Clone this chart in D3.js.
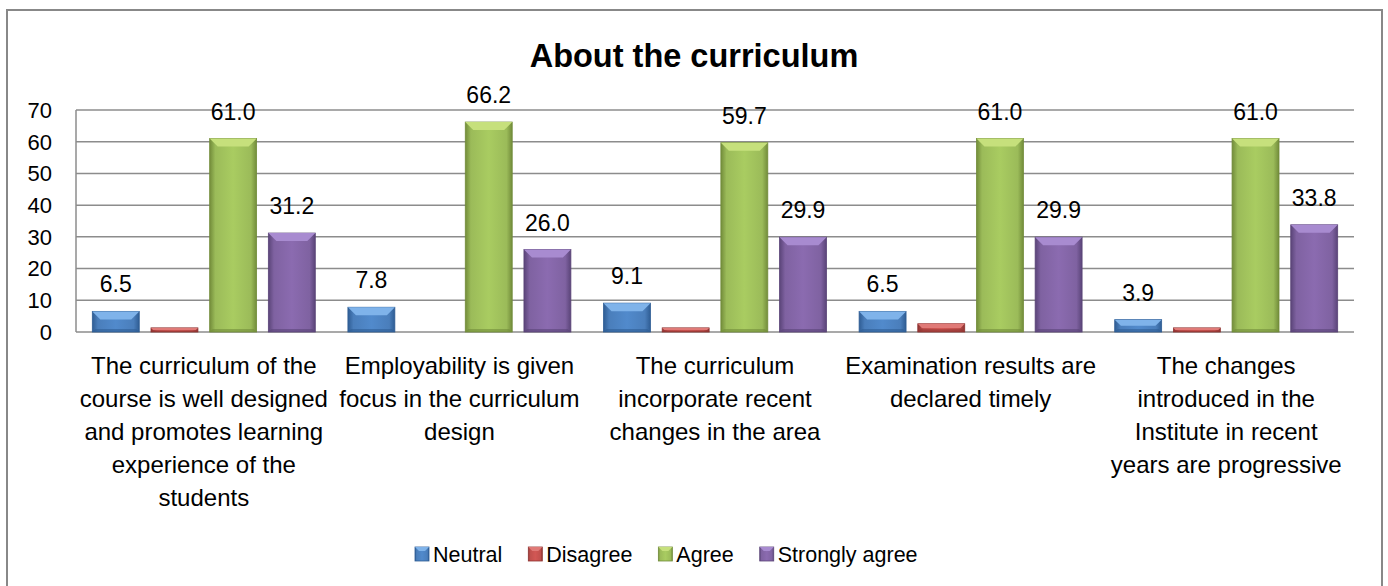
<!DOCTYPE html>
<head>
    <meta charset="utf-8">
    <style>
        body { margin: 0; background: #fff; }
        text { font-family: "Liberation Sans", Arial, sans-serif; fill: #000; }
        .grid line { stroke: #8c8c8c; stroke-width: 1.5; }
    </style>
</head>
<svg width="1388" height="586" class="bar-chart"></svg>
<script src="https://cdn.jsdelivr.net/npm/d3@7/dist/d3.min.js"></script>
<script>
    // chart data
    const title = "About the curriculum";
    const categories = [
        "The curriculum of the\ncourse is well designed\nand promotes learning\nexperience of the\nstudents",
        "Employability is given\nfocus in the curriculum\ndesign",
        "The curriculum\nincorporate recent\nchanges in the area",
        "Examination results are\ndeclared timely",
        "The changes\nintroduced in the\nInstitute in recent\nyears are progressive"
    ];
    const seriesNames = ["Neutral", "Disagree", "Agree", "Strongly agree"];
    const neutral = [6.5, 7.8, 9.1, 6.5, 3.9];
    const disagree = [1.3, 0, 1.3, 2.6, 1.3];
    const agree = [61.0, 66.2, 59.7, 61.0, 61.0];
    const stronglyAgree = [31.2, 26.0, 29.9, 29.9, 33.8];
    const labelledSeries = ["Neutral", "Agree", "Strongly agree"];
    const yTicks = [0, 10, 20, 30, 40, 50, 60, 70];

    const values = [neutral, disagree, agree, stronglyAgree];
    const colors = {
        "Neutral":        {face: "#4a7ebb", light: "#7fb3ea", dark: "#2f5d94"},
        "Disagree":       {face: "#c0504d", light: "#e07a77", dark: "#8e3331"},
        "Agree":          {face: "#9bbb59", light: "#c6e07c", dark: "#728c3a"},
        "Strongly agree": {face: "#7f62a1", light: "#a88bd0", dark: "#5a4478"}
    };

    var svg = d3.select(".bar-chart"),
        margin = {top: 110, left: 76, right: 34, bottom: 254},
        width = +svg.attr("width") - margin.left - margin.right,
        height = +svg.attr("height") - margin.top - margin.bottom;

    // outer chart border
    svg.append("rect")
        .attr("x", 7).attr("y", 10)
        .attr("width", 1375).attr("height", 600)
        .attr("fill", "#fff")
        .attr("stroke", "#888").attr("stroke-width", 2);

    var defs = svg.append("defs");
    seriesNames.forEach(function(s, i) {
        var c = colors[s];
        var gr = defs.append("linearGradient").attr("id", "grad" + i)
            .attr("x1", "0").attr("x2", "1").attr("y1", "0").attr("y2", "0");
        gr.append("stop").attr("offset", "0").attr("stop-color", c.dark);
        gr.append("stop").attr("offset", "0.12").attr("stop-color", c.face);
        gr.append("stop").attr("offset", "0.5").attr("stop-color", d3.color(c.face).brighter(0.25));
        gr.append("stop").attr("offset", "0.88").attr("stop-color", c.face);
        gr.append("stop").attr("offset", "1").attr("stop-color", c.dark);
    });

    var x0 = d3.scaleBand().domain(d3.range(categories.length)).range([0, width]);
    var x1 = d3.scaleBand().domain(seriesNames).range([0, x0.bandwidth()])
        .paddingInner(0.2).paddingOuter(0.278);
    var y = d3.scaleLinear().domain([0, 70]).range([height, 0]);

    var g = svg.append("g")
        .attr("transform", "translate(" + margin.left + "," + margin.top + ")");

    // gridlines
    g.append("g").attr("class", "grid")
        .selectAll("line").data(yTicks).enter().append("line")
        .attr("x1", 0).attr("x2", width)
        .attr("y1", function(d) { return y(d); })
        .attr("y2", function(d) { return y(d); });
    g.append("line")
        .attr("x1", 0).attr("x2", 0).attr("y1", 0).attr("y2", height)
        .attr("stroke", "#8c8c8c").attr("stroke-width", 1.5);

    // y axis labels
    g.append("g").selectAll("text").data(yTicks).enter().append("text")
        .attr("x", -24).attr("y", function(d) { return y(d); })
        .attr("dy", "0.36em")
        .attr("text-anchor", "end")
        .style("font-size", "22px")
        .text(function(d) { return d; });

    // bars with bevel
    var bars = [];
    values.forEach(function(arr, si) {
        arr.forEach(function(v, ci) {
            bars.push({s: seriesNames[si], si: si, ci: ci, v: v});
        });
    });

    var bar = g.selectAll(".bar").data(bars.filter(function(d) { return d.v > 0; }))
        .enter().append("g").attr("class", "bar")
        .attr("transform", function(d) {
            return "translate(" + (x0(d.ci) + x1(d.s)) + "," + y(d.v) + ")";
        });

    var bw = x1.bandwidth();
    bar.append("rect")
        .attr("width", bw)
        .attr("height", function(d) { return height - y(d.v); })
        .attr("fill", function(d) { return "url(#grad" + d.si + ")"; })
        .attr("stroke", function(d) { return colors[d.s].dark; })
        .attr("stroke-width", 0.8);
    bar.append("path")
        .attr("fill", function(d) { return colors[d.s].light; })
        .attr("d", function(d) {
            var h = height - y(d.v), b = Math.min(8, h / 2);
            return "M0,0H" + bw + "L" + (bw - b) + "," + b + "H" + b + "Z";
        });
    bar.append("path")
        .attr("fill", function(d) { return colors[d.s].dark; })
        .attr("opacity", 0.6)
        .attr("d", function(d) {
            var h = height - y(d.v), b = Math.min(3, h / 3);
            return "M0," + h + "H" + bw + "L" + (bw - b) + "," + (h - b) + "H" + b + "Z";
        });

    // data labels
    g.selectAll(".lbl").data(bars.filter(function(d) { return labelledSeries.indexOf(d.s) >= 0; }))
        .enter().append("text")
        .attr("class", "lbl")
        .attr("x", function(d) { return x0(d.ci) + x1(d.s) + bw / 2; })
        .attr("y", function(d) { return y(d.v) - 19; })
        .attr("text-anchor", "middle")
        .style("font-size", "23px")
        .text(function(d) { return d3.format(".1f")(d.v); });

    // category labels
    var cat = g.selectAll(".cat").data(categories).enter().append("text")
        .attr("class", "cat")
        .attr("text-anchor", "middle")
        .style("font-size", "24px")
        .attr("transform", function(d, i) {
            return "translate(" + (x0(i) + x0.bandwidth() / 2) + "," + (height + 42) + ")";
        });
    cat.selectAll("tspan").data(function(d) { return d.split("\n"); })
        .enter().append("tspan")
        .attr("x", 0)
        .attr("dy", function(d, i) { return i === 0 ? 0 : 33; })
        .text(function(d) { return d; });

    // title
    svg.append("text")
        .attr("x", 694).attr("y", 67)
        .attr("text-anchor", "middle")
        .style("font-size", "32.5px").style("font-weight", "bold")
        .text(title);

    // legend
    var legend = svg.append("g").attr("transform", "translate(415,554)");
    var lx = 0;
    seriesNames.forEach(function(s, i) {
        var item = legend.append("g").attr("transform", "translate(" + lx + ",0)");
        item.append("rect").attr("x", 0).attr("y", -7).attr("width", 14).attr("height", 14)
            .attr("fill", "url(#grad" + i + ")")
            .attr("stroke", colors[s].dark).attr("stroke-width", 0.8);
        item.append("path").attr("fill", colors[s].light)
            .attr("d", "M0,-7H14L10,-3H4Z");
        var t = item.append("text").attr("x", 18).attr("dy", "0.35em")
            .style("font-size", "21.5px").text(s);
        lx += 18 + t.node().getComputedTextLength() + 26;
    });
</script>
